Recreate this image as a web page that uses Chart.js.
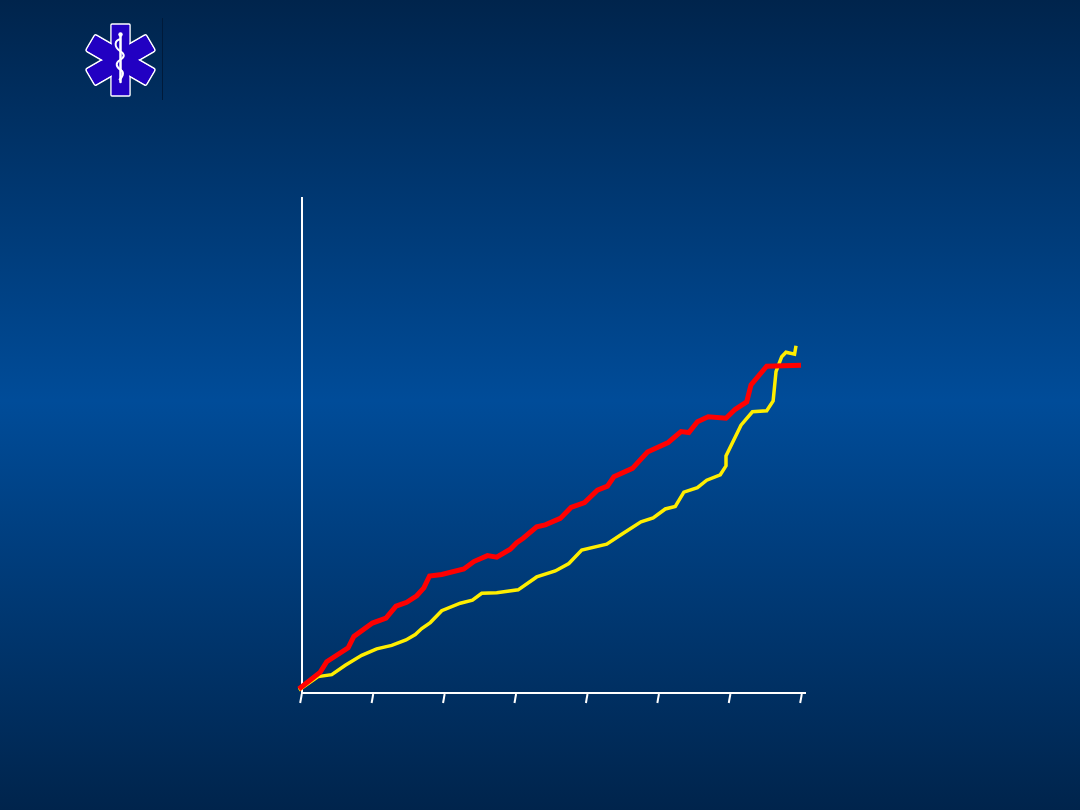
<!DOCTYPE html>
<html lang="en">
<head>
<meta charset="UTF-8">
<title>Chart</title>
<script src="https://cdn.jsdelivr.net/npm/chart.js"></script>
<style>
    html, body { margin: 0; padding: 0; width: 1080px; height: 810px; overflow: hidden; }
    body { background: linear-gradient(to bottom, #00244c 0%, #004c99 49.5%, #00244c 100%); position: relative; }
    #grafico { position: absolute; left: 0; top: 0; }
    #logo { position: absolute; left: 0; top: 0; }
</style>
</head>
<body>
<svg id="logo" width="200" height="110" viewBox="0 0 200 110">
    <line x1="162.5" y1="18" x2="162.5" y2="100" stroke="#001a3a" stroke-width="1"/>
    <g fill="#2200c2" stroke="#ffffff" stroke-width="1.5" stroke-linejoin="round">
        <rect x="111" y="24" width="19" height="72" rx="1"/>
        <rect x="111" y="25" width="19" height="70" rx="2" transform="rotate(60 120.5 60)"/>
        <rect x="111" y="25" width="19" height="70" rx="2" transform="rotate(120 120.5 60)"/>
    </g>
    <g fill="#2200c2">
        <rect x="111.8" y="25" width="17.4" height="70"/>
        <rect x="111.8" y="26" width="17.4" height="68" transform="rotate(60 120.5 60)"/>
        <rect x="111.8" y="26" width="17.4" height="68" transform="rotate(120 120.5 60)"/>
    </g>
    <line x1="120.5" y1="35" x2="120.5" y2="82" stroke="#ffffff" stroke-width="2.5" stroke-linecap="round"/>
    <circle cx="120.5" cy="34.5" r="2.2" fill="#ffffff"/>
    <path d="M121 39 C114 40 114 47 120 51 C125 54 125 57 120 60 C115 63 116 67 121 70 C125 73 122 78 119 80" fill="none" stroke="#ffffff" stroke-width="2"/>
</svg>
<canvas id="grafico" width="1080" height="810"></canvas>

<script>
    const tickValues = [0, 1, 2, 3, 4, 5, 6, 7];

    const redX = [-0.03, 0.27, 0.36, 0.66, 0.74, 1.00, 1.19, 1.33, 1.48, 1.62, 1.72, 1.80, 1.97, 2.28, 2.42, 2.61, 2.74, 2.93, 3.02, 3.11, 3.30, 3.42, 3.63, 3.78, 3.97, 4.15, 4.29, 4.38, 4.64, 4.85, 5.14, 5.32, 5.43, 5.55, 5.70, 5.95, 6.08, 6.24, 6.30, 6.52, 7.00];
    const redY = [0.8, 4.2, 6.3, 9.1, 11.4, 14.1, 15.1, 17.5, 18.3, 19.6, 21.2, 23.6, 23.9, 25.0, 26.5, 27.7, 27.4, 29.0, 30.3, 31.2, 33.5, 33.9, 35.2, 37.4, 38.4, 40.9, 41.7, 43.6, 45.3, 48.6, 50.5, 52.7, 52.5, 54.7, 55.7, 55.4, 57.2, 58.7, 62.1, 65.9, 66.1];

    const yellowX = [-0.03, 0.24, 0.43, 0.62, 0.85, 1.06, 1.27, 1.47, 1.60, 1.69, 1.81, 1.97, 2.23, 2.40, 2.53, 2.74, 3.04, 3.30, 3.56, 3.75, 3.93, 4.28, 4.49, 4.76, 4.93, 5.10, 5.24, 5.36, 5.55, 5.68, 5.87, 5.95, 5.95, 6.16, 6.32, 6.52, 6.61, 6.65, 6.73, 6.79, 6.91, 6.93];
    const yellowY = [0.6, 3.3, 3.7, 5.6, 7.6, 8.9, 9.6, 10.7, 11.8, 13.0, 14.2, 16.6, 18.1, 18.7, 20.1, 20.2, 20.8, 23.4, 24.6, 26.1, 28.8, 30.0, 32.0, 34.5, 35.3, 37.1, 37.6, 40.5, 41.4, 42.9, 44.0, 45.8, 47.8, 54.0, 56.7, 56.9, 58.9, 64.8, 67.8, 68.7, 68.3, 70.0];

    function montarPontos(xs, ys) {
        return xs.map((x, i) => ({ x: x, y: ys[i] }));
    }

    // marcas inclinadas do eixo x, como na figura
    const marcasInclinadas = {
        id: 'marcasInclinadas',
        afterDraw(chart) {
            const escala = chart.scales.x;
            const ctx = chart.ctx;
            const base = chart.chartArea.bottom;
            ctx.save();
            ctx.strokeStyle = '#ffffff';
            ctx.lineWidth = 2;
            escala.ticks.forEach((t, i) => {
                const px = escala.getPixelForTick(i);
                ctx.beginPath();
                ctx.moveTo(px + 0.8, base + 1);
                ctx.lineTo(px - 0.8, base + 10);
                ctx.stroke();
            });
            ctx.restore();
        }
    };

    new Chart(document.getElementById('grafico'), {
        type: 'line',
        data: {
            datasets: [
                { data: montarPontos(redX, redY), borderColor: '#ff0000', borderWidth: 5, pointRadius: 0, tension: 0, clip: false, order: 1 },
                { data: montarPontos(yellowX, yellowY), borderColor: '#ffee00', borderWidth: 3.5, pointRadius: 0, tension: 0, clip: false, order: 2 }
            ]
        },
        options: {
            responsive: false,
            animation: false,
            layout: { padding: { left: 302, top: 198, right: 275, bottom: 117 } },
            plugins: { legend: { display: false }, tooltip: { enabled: false } },
            scales: {
                x: {
                    type: 'linear',
                    min: 0.014,
                    max: 7.056,
                    afterBuildTicks: (escala) => { escala.ticks = tickValues.map(v => ({ value: v })); },
                    grid: { display: true, drawOnChartArea: false, drawTicks: false },
                    border: { color: '#ffffff', width: 2 },
                    ticks: { display: false }
                },
                y: {
                    min: 0,
                    max: 99.8,
                    grid: { display: true, drawOnChartArea: false, drawTicks: false },
                    border: { color: '#ffffff', width: 2 },
                    ticks: { display: false }
                }
            }
        },
        plugins: [marcasInclinadas]
    });
</script>
</body>
</html>
